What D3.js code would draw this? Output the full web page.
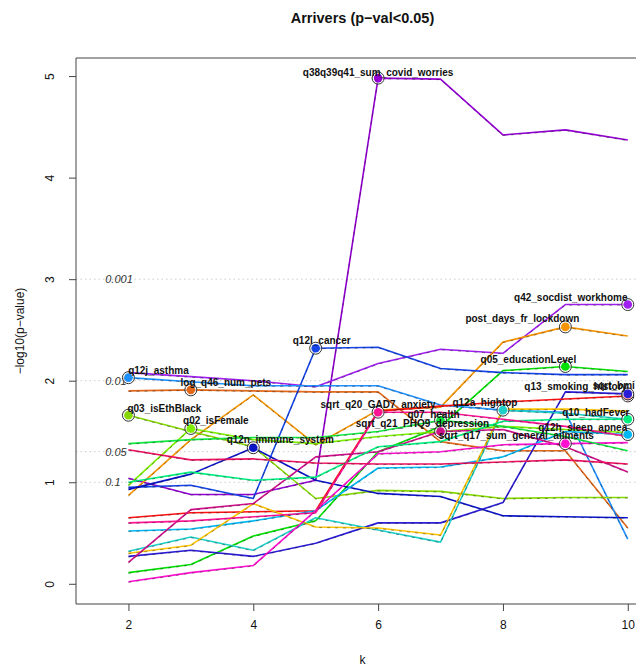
<!DOCTYPE html>
<html>
<head>
<meta charset="utf-8">
<script src="https://cdn.jsdelivr.net/npm/d3@7"></script>
<style>
  body { margin: 0; background: #fff; }
  svg { display: block; }
  text { font-family: "Liberation Sans", Arial, Helvetica, sans-serif; }
</style>
</head>
<body>
<svg id="chart" width="636" height="669"></svg>
<script>
// number of clusters k and -log10(p-value) of each variable at that k
const kValues = [2, 3, 4, 5, 6, 7, 8, 9, 10];
const xTicks = [2, 4, 6, 8, 10];
const yTicks = [0, 1, 2, 3, 4, 5];
const pRefValues = [0.001, 0.01, 0.05, 0.1];
const pRefLabels = ["0.001", "0.01", "0.05", "0.1"];

const covidWorries   = [1.04, 0.88, 0.88, 1.02, 4.98, 4.97, 4.42, 4.47, 4.37];
const socdistWork    = [2.08, 2.04, 2.00, 1.94, 2.17, 2.31, 2.27, 2.75, 2.75];
const daysLockdown   = [0.87, 1.42, 1.86, 1.37, 1.71, 1.74, 2.38, 2.53, 2.44];
const numPets        = [1.90, 1.91, 1.90, 1.89, 1.89, 1.40, 1.31, 1.31, 0.55];
const educationLevel = [0.11, 0.19, 0.47, 0.62, 1.30, 1.55, 2.10, 2.14, 2.09];
const cancer         = [0.95, 0.97, 0.84, 2.32, 2.33, 2.12, 2.08, 2.06, 2.06];
const asthma         = [2.03, 1.99, 1.95, 1.95, 1.95, 1.76, 1.71, 1.69, 0.44];
const isEthBlack     = [1.66, 1.50, 1.35, 0.84, 0.92, 0.91, 0.84, 0.85, 0.85];
const isFemale       = [0.97, 1.53, 1.42, 1.38, 1.45, 1.50, 1.55, 1.52, 1.49];
const immuneSystem   = [0.93, 1.08, 1.34, 1.02, 0.89, 0.86, 0.67, 0.66, 0.65];
const smokingHistory = [0.27, 0.33, 0.27, 0.40, 0.60, 0.60, 0.80, 1.89, 1.87];
const sqrtBmi        = [0.65, 0.70, 0.71, 0.72, 1.70, 1.75, 1.79, 1.82, 1.85];
const sleepApnea     = [0.52, 0.54, 0.62, 0.72, 1.14, 1.15, 1.25, 1.50, 1.47];
const hightop        = [0.32, 0.46, 0.33, 0.65, 0.53, 0.41, 1.71, 1.68, 1.62];
const covidTest      = [0.30, 0.38, 0.79, 0.56, 0.55, 0.48, 1.72, 1.72, 1.70];
const phq9Depression = [0.21, 0.73, 0.79, 1.25, 1.30, 1.50, 1.52, 1.35, 1.10];
const generalAilments= [0.02, 0.11, 0.18, 0.72, 1.28, 1.30, 1.37, 1.38, 1.39];
const health         = [1.38, 1.42, 1.44, 1.44, 1.50, 1.61, 1.55, 1.45, 1.31];
const hadFever       = [1.00, 1.10, 1.02, 1.05, 1.35, 1.40, 1.60, 1.62, 1.62];
const household      = [1.32, 1.22, 1.23, 1.19, 1.18, 1.18, 1.20, 1.22, 1.18];
const gad7Anxiety    = [0.60, 0.62, 0.66, 0.70, 1.69, 1.69, 1.62, 1.55, 1.45];

const seriesNames = [
  "q38q39q41_sum_covid_worries", "q42_socdist_workhome", "post_days_fr_lockdown",
  "log_q46_num_pets", "q05_educationLevel", "q12l_cancer", "q12j_asthma",
  "q03_isEthBlack", "q02_isFemale", "q12n_immune_system", "q13_smoking_history",
  "sqrt_bmi", "q12h_sleep_apnea", "q12a_hightop", "q11_covidTest",
  "sqrt_q21_PHQ9_depression", "sqrt_q17_sum_general_ailments", "q07_health",
  "q10_hadFever", "q04_household", "sqrt_q20_GAD7_anxiety"
];
const seriesData = [
  covidWorries, socdistWork, daysLockdown, numPets, educationLevel, cancer, asthma,
  isEthBlack, isFemale, immuneSystem, smokingHistory, sqrtBmi, sleepApnea, hightop,
  covidTest, phq9Depression, generalAilments, health, hadFever, household, gad7Anxiety
];
const seriesColors = [
  "#9400D3", "#A020F0", "#F59400", "#E2691C", "#00E000", "#1545E8", "#1E90FF",
  "#86D800", "#7CF000", "#0A14C8", "#2B1CD6", "#FF1010", "#00B8F5", "#1FD0C8",
  "#FFC400", "#D0108A", "#FF10D0", "#10E840", "#00F080", "#F01060", "#FF1493"
];

// highlighted point of each labelled variable (k where it is marked)
const labelSeries = [
  "q12j_asthma", "log_q46_num_pets", "q03_isEthBlack", "q02_isFemale",
  "q12n_immune_system", "q12l_cancer", "q38q39q41_sum_covid_worries",
  "sqrt_q20_GAD7_anxiety", "q07_health", "sqrt_q21_PHQ9_depression",
  "q12a_hightop", "sqrt_bmi", "q13_smoking_history", "q10_hadFever",
  "q12h_sleep_apnea", "sqrt_q17_sum_general_ailments", "q05_educationLevel",
  "post_days_fr_lockdown", "q42_socdist_workhome"
];
const labelK = [2, 3, 2, 3, 4, 5, 6, 6, 7, 7, 8, 10, 10, 10, 10, 9, 9, 9, 10];
// text placement relative to the marked point, in px
const labelShift = [
  [30, -7], [35, -7], [36, -7], [25, -8], [27, -8], [6, -8], [0, -6],
  [0, -8], [-7, -6], [-18, -8], [-18, -8], [-14, -10], [-52, -7], [-32, -7],
  [-45, -7], [-49, -8], [-37, -7], [-43, -8], [-57, -7]
];

const svg = d3.select("#chart");
const plot = { left: 76, right: 649, top: 58, bottom: 604 };

const x = d3.scaleLinear().domain([1.16, 10.34]).range([plot.left, plot.right]);
const y = d3.scaleLinear().domain([-0.199, 5.178]).range([plot.bottom, plot.top]);

svg.append("defs").append("clipPath").attr("id", "plotClip")
  .append("rect")
  .attr("x", plot.left).attr("y", plot.top)
  .attr("width", plot.right - plot.left).attr("height", plot.bottom - plot.top);

// significance reference lines
const refs = svg.append("g");
pRefValues.forEach((p, i) => {
  const yy = y(-Math.log10(p));
  refs.append("line")
    .attr("x1", plot.left).attr("x2", plot.right)
    .attr("y1", yy).attr("y2", yy)
    .attr("stroke", "#cccccc").attr("stroke-width", 1)
    .attr("stroke-dasharray", "1.5,3");
  refs.append("text")
    .attr("x", x(1.5) + 8).attr("y", yy)
    .attr("dy", "0.35em")
    .attr("font-size", 11).attr("font-style", "italic")
    .attr("fill", "#333")
    .text(pRefLabels[i]);
});

// lines
const line = d3.line().x((d, i) => x(kValues[i])).y(d => y(d));
const linesG = svg.append("g").attr("clip-path", "url(#plotClip)");
seriesData.forEach((vals, i) => {
  linesG.append("path")
    .attr("d", line(vals))
    .attr("fill", "none")
    .attr("stroke", seriesColors[i])
    .attr("stroke-width", 1.6)
    .attr("stroke-linejoin", "round");
  linesG.append("path")
    .attr("d", line(vals))
    .attr("fill", "none")
    .attr("stroke", "#000")
    .attr("stroke-opacity", 0.45)
    .attr("stroke-width", 0.8)
    .attr("stroke-dasharray", "3,5")
    .attr("transform", "translate(0,0.6)");
});

// marked points
const marks = svg.append("g");
labelSeries.forEach((name, i) => {
  const s = seriesNames.indexOf(name);
  const idx = kValues.indexOf(labelK[i]);
  const px = x(labelK[i]), py = y(seriesData[s][idx]);
  marks.append("circle")
    .attr("cx", px).attr("cy", py).attr("r", 6)
    .attr("fill", "#fff").attr("fill-opacity", 0.6)
    .attr("stroke", "#333").attr("stroke-width", 1);
  marks.append("circle")
    .attr("cx", px).attr("cy", py).attr("r", 4.3)
    .attr("fill", seriesColors[s]);
});

// point labels
const labels = svg.append("g");
labelSeries.forEach((name, i) => {
  const s = seriesNames.indexOf(name);
  const idx = kValues.indexOf(labelK[i]);
  labels.append("text")
    .attr("x", x(labelK[i]) + labelShift[i][0])
    .attr("y", y(seriesData[s][idx]) + labelShift[i][1])
    .attr("dy", "0.35em")
    .attr("text-anchor", "middle")
    .attr("font-size", 10).attr("font-weight", "bold")
    .attr("fill", "#111")
    .text(name);
});

// frame and axes
const axisColor = "#444";
svg.append("path")
  .attr("d", `M${plot.right + 20},${plot.top}H${plot.left}V${plot.bottom}H${plot.right + 20}`)
  .attr("fill", "none").attr("stroke", axisColor).attr("stroke-width", 1);

const xAxis = svg.append("g").attr("transform", `translate(0,${plot.bottom})`)
  .call(d3.axisBottom(x).tickValues(xTicks).tickSize(7).tickPadding(9).tickFormat(d3.format("d")));
xAxis.select(".domain").remove();
xAxis.selectAll("line").attr("stroke", axisColor);
xAxis.selectAll("text").attr("font-size", 12).attr("fill", "#111")
  .attr("font-family", '"Liberation Sans", Arial, sans-serif');

const yAxis = svg.append("g").attr("transform", `translate(${plot.left},0)`)
  .call(d3.axisLeft(y).tickValues(yTicks).tickSize(7).tickPadding(0).tickFormat(d3.format("d")));
yAxis.select(".domain").remove();
yAxis.selectAll("line").attr("stroke", axisColor);
yAxis.selectAll("text")
  .attr("font-size", 12).attr("fill", "#111")
  .attr("font-family", '"Liberation Sans", Arial, sans-serif')
  .attr("text-anchor", "middle")
  .attr("x", 0).attr("dy", 0)
  .attr("transform", "translate(-26,0) rotate(-90)")
  .attr("dominant-baseline", "central");

// titles
svg.append("text")
  .attr("x", (plot.left + plot.right) / 2).attr("y", 23)
  .attr("text-anchor", "middle")
  .attr("font-size", 14.5).attr("font-weight", "bold").attr("fill", "#111")
  .text("Arrivers (p\u2212val<0.05)");

svg.append("text")
  .attr("x", (plot.left + plot.right) / 2).attr("y", 664)
  .attr("text-anchor", "middle")
  .attr("font-size", 12).attr("fill", "#111")
  .text("k");

svg.append("text")
  .attr("transform", `translate(24,${(plot.top + plot.bottom) / 2}) rotate(-90)`)
  .attr("text-anchor", "middle")
  .attr("font-size", 12).attr("fill", "#111")
  .text("\u2212log10(p\u2212value)");
</script>
</body>
</html>
